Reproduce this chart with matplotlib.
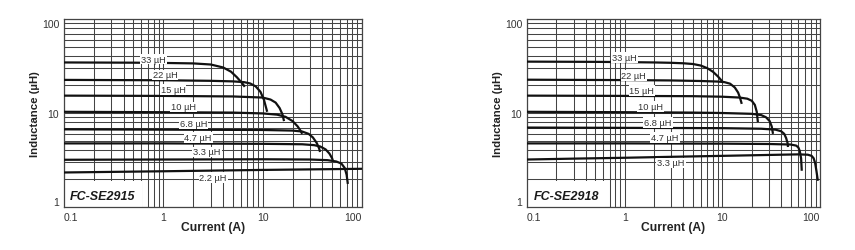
import matplotlib
matplotlib.use("Agg")
import matplotlib.pyplot as plt
from matplotlib.patches import Rectangle

plt.rcParams['font.family'] = ['Liberation Sans', 'DejaVu Sans']

# FC-SE2915 : inductance (uH) vs current (A)
se2915_names = ['33 µH', '22 µH', '15 µH', '10 µH', '6.8 µH', '4.7 µH', '3.3 µH', '2.2 µH']
se2915_x = [
    [0.1, 0.5, 1, 2, 3, 4, 4.8, 5.5, 6.2, 6.6],
    [0.1, 1, 3, 5, 6.5, 7.5, 8.5, 9.5, 10.3, 11.1],
    [0.1, 1, 5, 10, 12, 13.5, 14.8, 15.8, 16.4],
    [0.1, 1, 5, 10, 14, 17, 20, 22.5, 24, 25],
    [0.1, 1, 10, 20, 25, 29, 32, 35, 37, 37.8],
    [0.1, 1, 10, 25, 33, 38, 43, 47, 50, 51],
    [0.1, 1, 10, 30, 45, 55, 62, 67, 70, 72],
    [0.1, 1, 10, 100],
]
se2915_y = [
    [34.5, 34.3, 34.1, 33.7, 32.8, 30.5, 27.5, 24, 20.8, 19],
    [22.5, 22.3, 22, 21.7, 21.3, 20.6, 19.2, 16.8, 13.8, 10.3],
    [15.3, 15.2, 15, 14.6, 13.9, 12.9, 11.3, 9.7, 8.2],
    [10.3, 10.2, 10.1, 9.9, 9.6, 9.1, 8.2, 7.2, 6.5, 6.0],
    [6.7, 6.65, 6.6, 6.5, 6.35, 6.0, 5.5, 4.8, 4.2, 3.85],
    [4.75, 4.75, 4.7, 4.65, 4.55, 4.4, 4.1, 3.7, 3.3, 3.08],
    [3.18, 3.2, 3.22, 3.2, 3.15, 3.05, 2.9, 2.6, 2.2, 1.76],
    [2.33, 2.4, 2.48, 2.55],
]
se2915_lab_x = [0.8, 1.04, 1.25, 1.58, 2.0, 2.24, 2.75, 3.17]
se2915_lab_y = [37.5, 25.4, 17.6, 11.6, 7.7, 5.5, 3.85, 2.04]

# FC-SE2918
se2918_names = ['33 µH', '22 µH', '15 µH', '10 µH', '6.8 µH', '4.7 µH', '3.3 µH']
se2918_x = [
    [0.1, 0.5, 1, 2, 3, 4, 5, 6, 7, 8, 9, 10.1],
    [0.1, 1, 3, 6, 9, 10.5, 12, 13.4, 14.5, 15.1, 15.8],
    [0.1, 1, 5, 10, 15, 18, 20, 21.5, 22.5, 23.1],
    [0.1, 1, 5, 10, 20, 25, 28, 30.5, 32, 33],
    [0.1, 1, 10, 25, 35, 40, 43, 45, 46.5, 47],
    [0.1, 1, 10, 30, 50, 57, 60, 62, 64, 65],
    [0.1, 0.3, 1, 3, 10, 30, 60, 75, 82, 86, 89, 92, 95],
]
se2918_y = [
    [35.2, 35, 34.8, 34.5, 34.2, 33.8, 33.2, 32, 30, 27.5, 24.5, 21.4],
    [22.6, 22.4, 22.2, 21.9, 21.6, 21.3, 20.5, 18.7, 16.5, 14.7, 12.5],
    [15.3, 15.2, 15.1, 14.9, 14.6, 14.2, 13.5, 12.2, 10.3, 8.0],
    [10.3, 10.2, 10.1, 10, 9.8, 9.5, 9, 8.2, 7.2, 6.0],
    [7.0, 6.95, 6.9, 6.8, 6.65, 6.4, 6.0, 5.4, 4.8, 4.35],
    [4.75, 4.75, 4.72, 4.68, 4.62, 4.5, 4.3, 3.95, 3.3, 2.43],
    [3.2, 3.27, 3.34, 3.42, 3.5, 3.58, 3.63, 3.6, 3.5, 3.3, 2.95, 2.4, 1.9],
]
se2918_lab_x = [1.0, 1.24, 1.5, 1.82, 2.19, 2.58, 2.98]
se2918_lab_y = [39, 24.9, 17.3, 11.7, 7.96, 5.5, 2.94]

x_ticks = [0.1, 1, 10, 100]
x_ticklabels = ['0.1', '1', '10', '100']
y_ticks = [1, 10, 100]
y_ticklabels = ['1', '10', '100']

grid_col = '#444444'


def draw(ax, xs, ys, names, lx, ly, title, box_w, txt_x):
    ax.set_xscale('log')
    ax.set_yscale('log')
    ax.set_xlim(0.1, 100)
    ax.set_ylim(1, 100)
    ax.grid(True, which='both', color=grid_col, lw=0.75, zorder=0)
    ax.set_axisbelow(True)
    for sp in ax.spines.values():
        sp.set_color(grid_col)
        sp.set_linewidth(0.9)

    for x, y in zip(xs, ys):
        ax.plot(x, y, color='#111111', lw=1.6, zorder=3, solid_capstyle='butt')
    for n, x, y in zip(names, lx, ly):
        ax.text(x, y, n, fontsize=6.7, color='#333333', ha='center', va='center', zorder=4,
                bbox=dict(facecolor='white', edgecolor='none', boxstyle='square,pad=0.1'))

    ax.add_patch(Rectangle((0, 0), box_w, 0.138, transform=ax.transAxes,
                           facecolor='white', edgecolor='none', zorder=2.5))
    ax.text(txt_x, 0.06, title, transform=ax.transAxes, fontsize=9, fontweight='bold',
            fontstyle='italic', ha='center', va='center', color='#1a1a1a', zorder=5)

    ax.set_xticks(x_ticks)
    ax.set_xticklabels(x_ticklabels)
    ax.set_yticks(y_ticks)
    ax.set_yticklabels(y_ticklabels)
    ax.tick_params(which='both', length=0, labelsize=7.5, colors='#333333')
    ax.tick_params(axis='x', pad=3.5)
    ax.tick_params(axis='y', pad=3.5)
    xl = ax.get_xticklabels()
    xl[0].set_ha('left')
    xl[-1].set_ha('right')
    yl = ax.get_yticklabels()
    yl[0].set_va('bottom')
    yl[-1].set_va('top')

    ax.set_xlabel('Current (A)', fontsize=8.7, fontweight='bold', color='#222222', va='center')
    ax.xaxis.set_label_coords(0.5, -0.107)
    ax.set_ylabel('Inductance (µH)', fontsize=8.2, fontweight='bold', color='#222222', va='center')
    ax.yaxis.set_label_coords(-0.098, 0.5)


fig = plt.figure(figsize=(8.55, 2.51), dpi=100)
ax1 = fig.add_axes([0.0749, 0.1713, 0.3485, 0.749])
ax2 = fig.add_axes([0.6164, 0.1713, 0.3427, 0.749])

draw(ax1, se2915_x, se2915_y, se2915_names, se2915_lab_x, se2915_lab_y, 'FC-SE2915', 0.262, 0.13)
draw(ax2, se2918_x, se2918_y, se2918_names, se2918_lab_x, se2918_lab_y, 'FC-SE2918', 0.266, 0.135)

fig.savefig('out.png', dpi=100)
